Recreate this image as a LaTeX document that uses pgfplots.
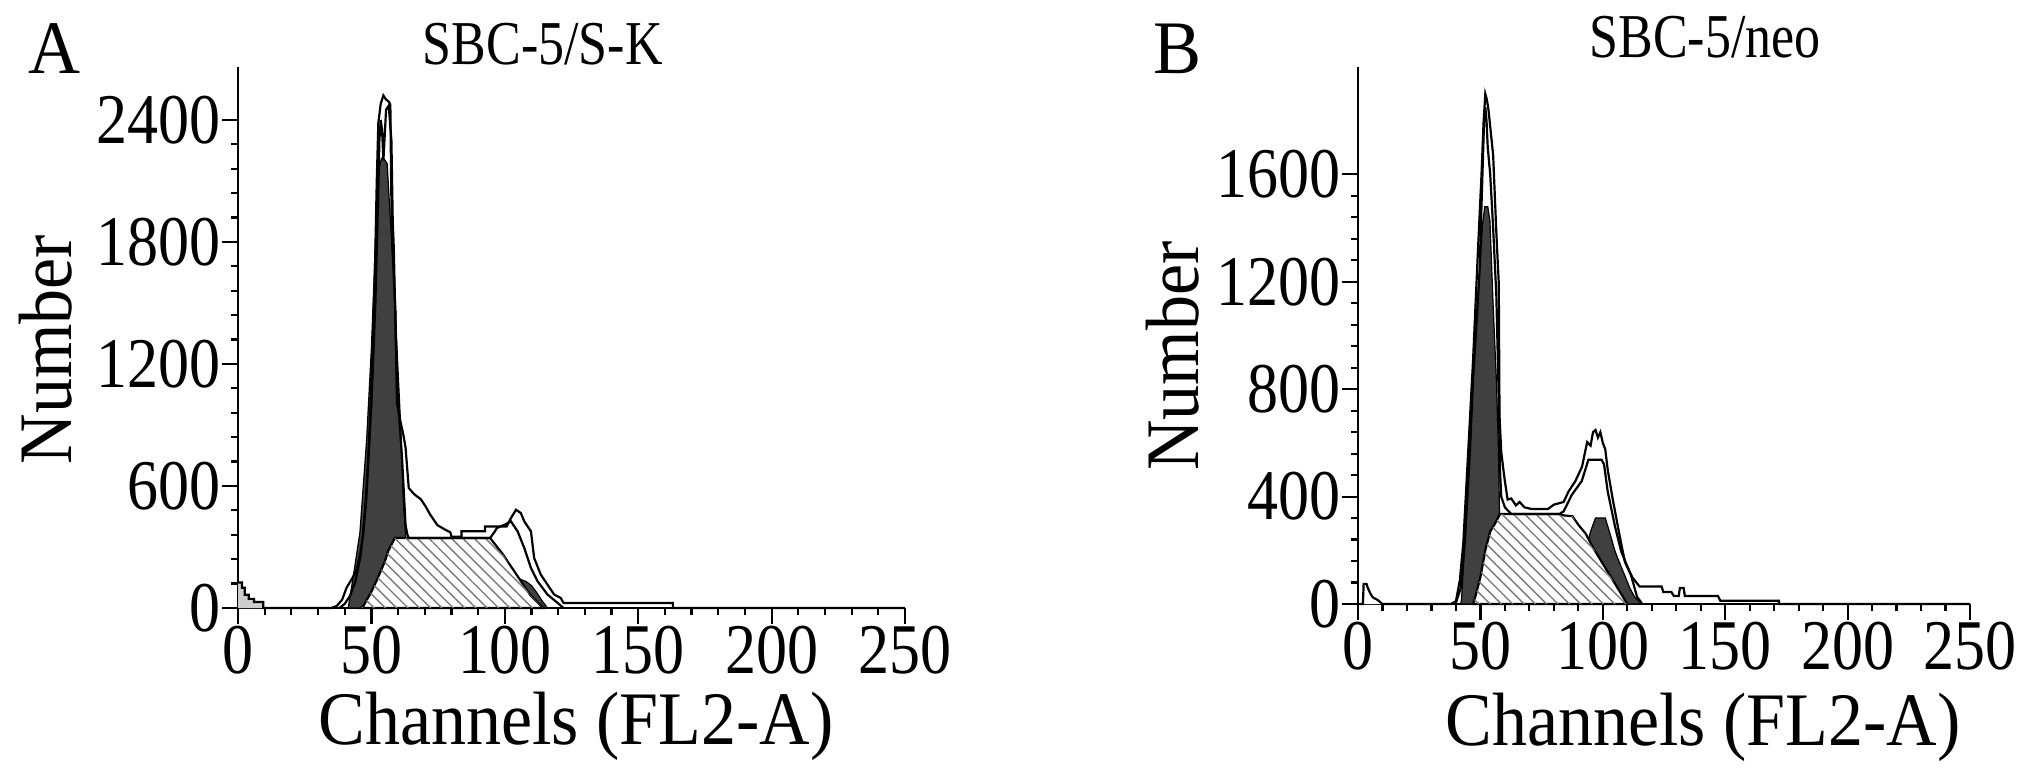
\documentclass[border=0pt]{standalone}
\usepackage{fontspec}
\setmainfont{Liberation Serif}
\usepackage{graphicx}
\usepackage{pgfplots}
\pgfplotsset{compat=1.18}
\usetikzlibrary{patterns.meta}
\definecolor{darkfill}{RGB}{64,64,64}
\definecolor{debris}{RGB}{205,205,205}
\definecolor{hatch}{RGB}{120,120,120}
\pgfplotsset{
  flowaxis/.style={
    scale only axis,
    axis x line*=bottom, axis y line*=left,
    axis line style={line width=2.4pt,-},
    xmin=0, xmax=250, ymin=0,
    xtick={0,50,100,150,200,250},
    minor x tick num=4, minor y tick num=4,
    tick align=outside,
    major tick length=16pt, minor tick length=7pt,
    every tick/.style={line width=2.2pt,black},
    tick label style={font=\fontsize{62}{62}\selectfont},
    /pgf/number format/assume math mode=true,
    /pgf/number format/1000 sep={},
    xticklabel={\scalebox{1}[1.15]{\pgfmathprintnumber{\tick}}},
    yticklabel={\scalebox{1}[1.15]{\pgfmathprintnumber{\tick}}},
    xticklabel style={inner sep=2pt},
    yticklabel style={inner sep=1pt},
    label style={font=\fontsize{70}{70}\selectfont},
    title style={font=\fontsize{52}{52}\selectfont, anchor=base},
    clip=false,
  },
  outl/.style={black, line width=2.2pt, mark=none},
  darkp/.style={fill=darkfill, draw=black, line width=1.2pt, mark=none},
  swhite/.style={fill=white, draw=black, line width=2.2pt, mark=none},
  shatch/.style={draw=none, mark=none, pattern={Lines[angle=-45,distance=8pt,line width=1.4pt]}, pattern color=hatch},
}
\newcommand{\vs}[2]{\scalebox{1}[#1]{#2}}
\begin{document}
\begin{tikzpicture}[x=1pt,y=1pt]
\useasboundingbox (0,0) rectangle (2031,777);
% ---------------- Panel A ----------------
\begin{axis}[flowaxis, at={(238pt,169pt)}, anchor=south west,
  width=667pt, height=541pt, ymax=2660,
  ytick={0,600,1200,1800,2400},
  xlabel={\vs{1.08}{Channels (FL2-A)}},
  xlabel style={at={(axis description cs:0.507,-0.252)}, anchor=base},
  ylabel={\vs{1.08}{Number}},
  ylabel style={at={(axis description cs:-0.25,0.478)}, anchor=base},
  title={\vs{1.2}{SBC-5/S-K}},
  title style={at={(axis description cs:0.457,0.994)}},
]
% debris
\addplot[fill=debris, draw=none] coordinates {(0,125) (1.5,125) (1.5,100) (2.5,100) (2.5,65) (4,65) (4,45) (6,45) (6,30) (9.5,30) (9.5,0)} \closedcycle;
% G2 fit
\addplot[darkp] coordinates {(88,0) (94,40) (98,100) (102,140) (106,140) (108,130) (110,110) (112,75) (114,35) (116,0)} \closedcycle;
% G1 fit
\addplot[darkp] coordinates {(41.3,0) (43.2,154) (45.7,372) (48.2,825) (50,1278) (51.3,1731) (52.6,2148) (53.8,2212) (54.5,2212) (55.9,2185) (57.1,1913) (58.4,1641) (59.6,1278) (60.9,916) (61.9,553) (62.8,354) (63.5,200) (64,0)} \closedcycle;
% S phase
\addplot[swhite] coordinates {(46,0) (47,10) (50,80) (52,136) (55,227) (56.3,281) (58.8,344) (94.5,344) (99.4,262) (104.4,164) (109.4,66) (114.4,0)} \closedcycle;
\addplot[shatch] coordinates {(46,0) (47,10) (50,80) (52,136) (55,227) (56.3,281) (58.8,344) (94.5,344) (99.4,262) (104.4,164) (109.4,66) (114.4,0)} \closedcycle;
% model outline
\addplot[outl] coordinates {(38,0) (40,20) (42,60) (44,130) (46,260) (48,520) (50,1000) (51.5,1500) (52.5,2000) (53,2300) (53.5,2400) (54,2350) (54.5,2200) (55.5,2450) (56.5,2470) (57.5,2300) (58,1900) (58.4,1768) (59,1400) (59.6,1097) (61.5,734) (62.8,408) (63.5,360) (64,344) (94.5,344) (96.3,377) (97,393) (100,410) (102.3,426) (104.8,377) (107.3,295) (109.8,197) (112.3,131) (116,66) (119.8,25) (122,0)};
% raw histogram
\addplot[outl] coordinates {(0,125) (1.5,125) (1.5,100) (2.5,100) (2.5,65) (4,65) (4,45) (6,45) (6,30) (9.5,30) (9.5,0) (35,0) (37,10) (39,40) (40.7,100) (43,150) (44.5,190) (46,280) (47,372) (48,550) (48.8,734) (50,1097) (51.3,1641) (52,2094) (52.6,2384) (53.5,2480) (54.5,2520) (55.5,2500) (56.5,2490) (57.1,2475) (57.4,2100) (57.7,1822) (59,1460) (59.6,1006) (60.9,916) (62,850) (62.8,789) (64,590) (66,560) (68.5,535) (70.3,500) (72,460) (74.7,408) (77,390) (79.6,372) (80,350) (83.8,350) (83.8,377) (92.6,377) (92.6,401) (100.7,401) (102.3,442) (104.2,483) (106,467) (107.3,426) (109.8,377) (111,246) (113.5,164) (116,115) (118.5,66) (121,49) (122,25) (163,25) (163,0) (250,0)};
\end{axis}
% ---------------- Panel B ----------------
\begin{axis}[flowaxis, at={(1358pt,173pt)}, anchor=south west,
  width=612pt, height=537pt, ymax=2000,
  ytick={0,400,800,1200,1600},
  xlabel={\vs{1.08}{Channels (FL2-A)}},
  xlabel style={at={(axis description cs:0.564,-0.264)}, anchor=base},
  ylabel={\vs{1.08}{Number}},
  ylabel style={at={(axis description cs:-0.261,0.462)}, anchor=base},
  title={\vs{1.2}{SBC-5/neo}},
  title style={at={(axis description cs:0.567,1.006)}},
]
% debris
\addplot[fill=white, draw=none] coordinates {(2,0) (2.3,75) (3.5,75) (4,60) (5,40) (6,25) (8,15) (10,0)} \closedcycle;
% G2 fit
\addplot[darkp] coordinates {(82,0) (83,8) (85,26) (87,60) (89,105) (91,150) (93,200) (95,270) (97,320) (101,320) (103,260) (105,196) (107,150) (109,105) (111,60) (113,26) (115,8) (116,0)} \closedcycle;
% G1 fit
\addplot[darkp] coordinates {(42,0) (42.3,20) (43.7,240) (45.7,566) (47,840) (48.4,1044) (49.7,1250) (51,1426) (51.8,1480) (53,1480) (53.9,1426) (55.2,1112) (56.5,840) (57.4,566) (57.8,334) (58.5,200) (59,0)} \closedcycle;
% S phase
\addplot[swhite] coordinates {(47,0) (48,30) (50,100) (52,200) (54,270) (56,300) (58,335) (82,335) (84,330) (87.6,327) (90,295) (93,262) (96,210) (100,150) (104,90) (107,45) (110,0)} \closedcycle;
\addplot[shatch] coordinates {(47,0) (48,30) (50,100) (52,200) (54,270) (56,300) (58,335) (82,335) (84,330) (87.6,327) (90,295) (93,262) (96,210) (100,150) (104,90) (107,45) (110,0)} \closedcycle;
% model outline
\addplot[outl] coordinates {(38,0) (40,5) (42,60) (43.7,240) (45.7,566) (47,840) (48.4,1044) (49.7,1250) (50.5,1500) (51,1650) (51.5,1800) (52,1850) (52.5,1800) (53,1700) (54,1600) (55.2,1400) (56.5,1150) (57.4,800) (58,500) (58.5,400) (60,360) (62.6,335) (82.2,335) (84,345) (87.3,406) (91.4,458) (94.1,537) (99.5,537) (100.5,520) (102,419) (105,288) (107.5,196) (111.6,105) (114,26) (115.6,7) (116,0)};
% raw histogram
\addplot[outl] coordinates {(0,0) (2,0) (2.3,75) (3.5,75) (4,60) (5,40) (6,25) (8,15) (10,0) (38,0) (40,10) (41.6,89) (43,225) (45,566) (47,908) (49,1317) (50.4,1590) (51.3,1795) (52,1900) (52.6,1880) (53.3,1840) (55.2,1672) (56.5,1385) (57.5,1194) (57.8,703) (58.5,566) (59.8,470) (61.1,389) (62.6,393) (64.5,367) (66,380) (68,360) (70.8,354) (77.6,354) (80,370) (84,380) (86,419) (88.8,458) (91.5,511) (93.6,603) (95,590) (96,640) (97,648) (98,620) (99,640) (100,600) (101,576) (102,500) (104,393) (106.7,262) (109,157) (112,100) (115,65) (124,65) (124.7,45) (128,45) (129,30) (131,30) (131.5,60) (133,60) (133.5,30) (147,30) (148,12) (172,12) (172,0) (250,0)};
\end{axis}
% panel letters
\node[anchor=base west, inner sep=0pt, font=\fontsize{72}{72}\selectfont] at (28,703) {\vs{1.05}{A}};
\node[anchor=base west, inner sep=0pt, font=\fontsize{72}{72}\selectfont] at (1153,703) {\vs{1.05}{B}};
\end{tikzpicture}
\end{document}
